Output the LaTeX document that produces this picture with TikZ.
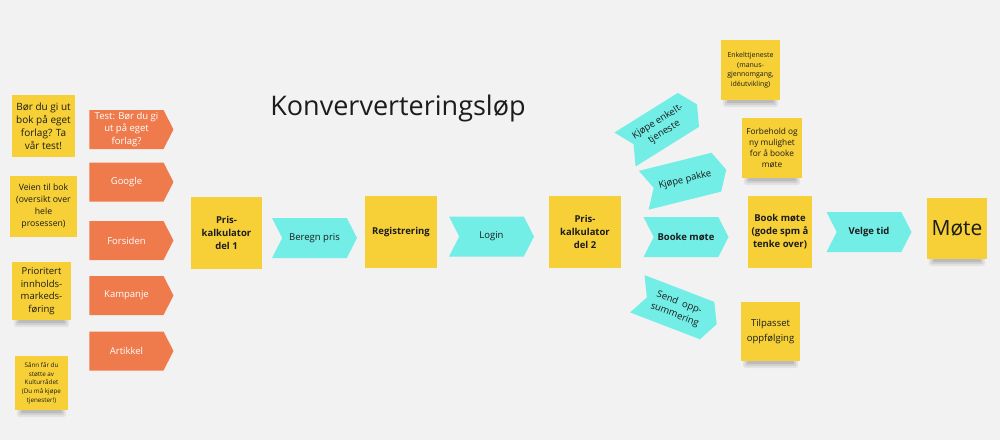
\documentclass[tikz,border=0pt]{standalone}
\usepackage{fontspec}
\setmainfont{Open Sans}
\usetikzlibrary{shapes.symbols,backgrounds,calc}
\definecolor{bgc}{HTML}{F2F2F2}
\definecolor{noteY}{HTML}{F6D036}
\definecolor{orangeC}{HTML}{EF7B4D}
\definecolor{cyanC}{HTML}{72EEE6}
\definecolor{ink}{HTML}{1C1C1C}
\tikzset{
  note/.style={rectangle, fill=noteY, text=ink, align=center, inner sep=0pt},
  orangearrow/.style={signal, signal to=east, signal pointer angle=126, fill=orangeC, text=white,
     align=center, inner sep=0pt, minimum width=84pt, minimum height=39pt, font=\fontsize{9.5}{12.5}\selectfont},
  cyanarrow/.style={signal, signal to=east, signal from=west, signal pointer angle=126, fill=cyanC, text=ink,
     align=center, inner sep=0pt, minimum width=85pt, minimum height=40pt, font=\fontsize{9.5}{12.5}\selectfont},
  mainfont/.style={font=\fontsize{9.5}{13}\selectfont\bfseries},
}
\newcommand{\noteshadow}[1]{%
  \fill[black, opacity=0.06, rounded corners=3pt] ($(#1.south west)+(2,-4)$) rectangle ($(#1.south east)+(-2,7)$);
  \fill[black, opacity=0.08, rounded corners=2pt] ($(#1.south west)+(4,-2)$) rectangle ($(#1.south east)+(-4,5)$);
  \fill[black, opacity=0.10, rounded corners=1pt] ($(#1.south west)+(6,0)$) rectangle ($(#1.south east)+(-6,3)$);
}
\begin{document}
\begin{tikzpicture}[x=1pt,y=-1pt]
\useasboundingbox (0,0) rectangle (1000,440);

% title
\node[text=ink, font=\fontsize{27}{30}\selectfont] (title) at (398,108) {Konververteringsløp};

% left notes
\node[note, minimum width=63pt, minimum height=62pt, font=\fontsize{10}{13}\selectfont] (n1) at (43.5,126)
  {Bør du gi ut\\bok på eget\\forlag? Ta\\vår test!};
\node[note, minimum width=67pt, minimum height=61pt, font=\fontsize{8.7}{12}\selectfont] (n2) at (43.5,206.5)
  {Veien til bok\\(oversikt over\\hele\\prosessen)};
\node[note, minimum width=59pt, minimum height=58pt, font=\fontsize{9.5}{12.5}\selectfont] (n3) at (41.5,291)
  {Prioritert\\innholds-\\markeds-\\føring};
\node[note, minimum width=53pt, minimum height=54pt, font=\fontsize{6.3}{8.8}\selectfont] (n4) at (41.5,383)
  {Sånn får du\\støtte av\\Kulturrådet\\(Du må kjøpe\\tjenester!)};

% orange arrows
\node[orangearrow] (o1) at (126.5,129.5) {Test: Bør du gi\\ut på eget\\forlag?};
\node[orangearrow] (o2) at (126.5,182) {Google};
\node[orangearrow] (o3) at (126.5,240.5) {Forsiden};
\node[orangearrow] (o4) at (126.5,295.5) {Kampanje};
\node[orangearrow] (o5) at (126.5,351) {Artikkel};

% main row
\node[note, mainfont, minimum width=71pt, minimum height=72pt] (p1) at (226.5,233) {Pris-\\kalkulator\\del 1};
\node[cyanarrow] (beregn) at (314.5,238) {Beregn pris};
\node[note, mainfont, minimum width=72pt, minimum height=72pt] (reg) at (401,232) {Registrering};
\node[cyanarrow] (login) at (491.5,236.5) {Login};
\node[note, mainfont, minimum width=72pt, minimum height=72pt] (p2) at (585,232) {Pris-\\kalkulator\\del 2};
\node[cyanarrow, mainfont] (booke) at (686,237) {Booke møte};
\node[note, mainfont, minimum width=64pt, minimum height=72pt] (book) at (780,232) {Book møte\\(gode spm å\\tenke over)};
\node[cyanarrow, mainfont] (velge) at (869,232) {Velge tid};
\node[note, minimum width=60pt, minimum height=61pt, font=\fontsize{21}{24}\selectfont] (mote) at (957,228.5) {Møte};

% branches
\node[cyanarrow, rotate=32] (kenk) at (661,127) {Kjøpe enkelt-\\tjeneste};
\node[cyanarrow, rotate=14] (kpakke) at (685,180) {Kjøpe pakke};
\node[cyanarrow, rotate=-21] (send) at (677,309) {Send\ \ opp-\\summering};

\node[note, minimum width=59pt, minimum height=60pt, font=\fontsize{7}{9.5}\selectfont] (enk) at (750.5,70)
  {Enkelttjeneste\\(manus-\\gjennomgang,\\idéutvikling)};
\node[note, minimum width=60pt, minimum height=60pt, font=\fontsize{8.3}{10.8}\selectfont] (forb) at (772,148)
  {Forbehold og\\ny mulighet\\for å booke\\møte};
\node[note, minimum width=59pt, minimum height=59pt, font=\fontsize{9.5}{15}\selectfont] (tilp) at (770.5,331.5)
  {Tilpasset\\oppfølging};

\begin{scope}[on background layer]
  \fill[bgc] (0,0) rectangle (1000,440);
  \noteshadow{n3}
  \noteshadow{n4}
  \noteshadow{enk}
  \noteshadow{forb}
  \noteshadow{mote}
  \noteshadow{tilp}
\end{scope}
\end{tikzpicture}
\end{document}
